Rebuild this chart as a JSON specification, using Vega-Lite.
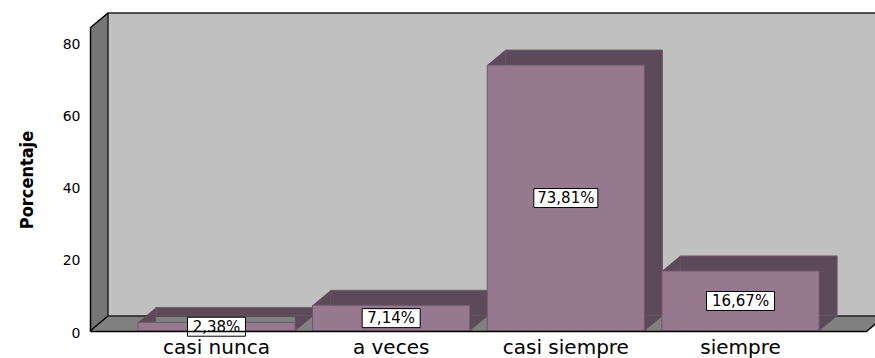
{
  "$schema": "https://vega.github.io/schema/vega-lite/v6.json",
  "width": 777,
  "height": 303,
  "autosize": {"type": "none"},
  "padding": {"left": 90, "top": 28, "right": 8, "bottom": 27},
  "background": "white",
  "config": {"view": {"stroke": null}},
  "data": {"values": [
    {"cat": "casi nunca", "pct": 2.38, "label": "2,38%"},
    {"cat": "a veces", "pct": 7.14, "label": "7,14%"},
    {"cat": "casi siempre", "pct": 73.81, "label": "73,81%"},
    {"cat": "siempre", "pct": 16.67, "label": "16,67%"}
  ]},
  "resolve": {"scale": {"x": "independent", "y": "independent", "shape": "independent"}},
  "layer": [
    {
      "data": {"values": [{}]},
      "mark": {"type": "rect", "fill": "#767676", "x2Offset": 18, "y2Offset": -15},
      "encoding": {
        "x": {"datum": 0, "type": "quantitative", "scale": {"domain": [0, 1], "nice": false, "zero": false}, "axis": null},
        "x2": {"datum": 0},
        "y": {"datum": 0, "type": "quantitative", "scale": {"domain": [0, 84.1], "nice": false}, "axis": null},
        "y2": {"datum": 84.1}
      }
    },
    {
      "data": {"values": [{}]},
      "mark": {"type": "rect", "fill": "#808080", "x2Offset": 18, "y2Offset": -15},
      "encoding": {
        "x": {"datum": 0, "type": "quantitative", "scale": {"domain": [0, 1], "nice": false, "zero": false}, "axis": null},
        "x2": {"datum": 1},
        "y": {"datum": 0, "type": "quantitative", "scale": {"domain": [0, 84.1], "nice": false}, "axis": null},
        "y2": {"datum": 0}
      }
    },
    {
      "data": {"values": [{}]},
      "mark": {"type": "rect", "fill": "#c0c0c0", "stroke": "#222222", "strokeWidth": 1.5, "xOffset": 18, "x2Offset": 18, "yOffset": -15, "y2Offset": -15},
      "encoding": {
        "x": {"datum": 0, "type": "quantitative", "scale": {"domain": [0, 1], "nice": false, "zero": false}, "axis": null},
        "x2": {"datum": 1},
        "y": {"datum": 0, "type": "quantitative", "scale": {"domain": [0, 84.1], "nice": false}, "axis": null},
        "y2": {"datum": 84.1}
      }
    },
    {
      "data": {"values": [{}]},
      "mark": {"type": "point", "shape": "M0,0L0,-15L18,-15Z", "size": 4, "filled": true, "fill": "#ffffff", "strokeWidth": 0, "opacity": 1},
      "encoding": {
        "x": {"datum": 0, "type": "quantitative", "scale": {"domain": [0, 1], "nice": false, "zero": false}, "axis": null},
        "y": {"datum": 84.1, "type": "quantitative", "scale": {"domain": [0, 84.1], "nice": false}, "axis": null}
      }
    },
    {
      "data": {"values": [{}]},
      "mark": {"type": "point", "shape": "M0,0L0,-15L18,-15Z", "size": 4, "filled": true, "fill": "#767676", "strokeWidth": 0, "opacity": 1},
      "encoding": {
        "x": {"datum": 0, "type": "quantitative", "scale": {"domain": [0, 1], "nice": false, "zero": false}, "axis": null},
        "y": {"datum": 0, "type": "quantitative", "scale": {"domain": [0, 84.1], "nice": false}, "axis": null}
      }
    },
    {
      "data": {"values": [{}]},
      "mark": {"type": "point", "shape": "M0,0L18,0L18,-15Z", "size": 4, "filled": true, "fill": "#ffffff", "strokeWidth": 0, "opacity": 1},
      "encoding": {
        "x": {"datum": 1, "type": "quantitative", "scale": {"domain": [0, 1], "nice": false, "zero": false}, "axis": null},
        "y": {"datum": 0, "type": "quantitative", "scale": {"domain": [0, 84.1], "nice": false}, "axis": null}
      }
    },
    {
      "data": {"values": [{"p": 0, "v": 84.1}, {"p": 0, "v": 0}, {"p": 1, "v": 0}]},
      "mark": {"type": "point", "shape": "M0,0L18,-15", "size": 4, "filled": false, "stroke": "#000000", "strokeWidth": 1.5, "opacity": 1},
      "encoding": {
        "x": {"field": "p", "type": "quantitative", "scale": {"domain": [0, 1], "nice": false, "zero": false}, "axis": null},
        "y": {"field": "v", "type": "quantitative", "scale": {"domain": [0, 84.1], "nice": false}, "axis": null}
      }
    },
    {
      "mark": {"type": "bar", "fill": "#5c4a5a", "stroke": "#6e5d6c", "strokeWidth": 1, "xOffset": 18, "yOffset": -15, "y2Offset": -15},
      "encoding": {
        "x": {"field": "cat", "type": "nominal", "sort": null, "scale": {"type": "band", "domain": ["casi nunca", "a veces", "casi siempre", "siempre"], "paddingInner": 0.1, "paddingOuter": 0.274}, "axis": null},
        "y": {"field": "pct", "type": "quantitative", "scale": {"domain": [0, 84.1], "nice": false}, "axis": null}
      }
    },
    {
      "mark": {"type": "point", "shape": "M-78.6,0L-60.6,-15L-60.6,0Z", "size": 4, "filled": true, "fill": "#5c4a5a", "strokeWidth": 0, "opacity": 1},
      "encoding": {
        "x": {"field": "cat", "type": "nominal", "sort": null, "scale": {"type": "band", "domain": ["casi nunca", "a veces", "casi siempre", "siempre"], "paddingInner": 0.1, "paddingOuter": 0.274}, "axis": null},
        "y": {"field": "pct", "type": "quantitative", "scale": {"domain": [0, 84.1], "nice": false}, "axis": null}
      }
    },
    {
      "mark": {"type": "point", "shape": "M78.6,0L78.6,-15L96.6,-15Z", "size": 4, "filled": true, "fill": "#5c4a5a", "strokeWidth": 0, "opacity": 1},
      "encoding": {
        "x": {"field": "cat", "type": "nominal", "sort": null, "scale": {"type": "band", "domain": ["casi nunca", "a veces", "casi siempre", "siempre"], "paddingInner": 0.1, "paddingOuter": 0.274}, "axis": null},
        "y": {"datum": 0, "type": "quantitative", "scale": {"domain": [0, 84.1], "nice": false}, "axis": null}
      }
    },
    {
      "mark": {"type": "bar", "fill": "#96798f", "stroke": "#6b5968", "strokeWidth": 1},
      "encoding": {
        "x": {"field": "cat", "type": "nominal", "sort": null, "scale": {"type": "band", "domain": ["casi nunca", "a veces", "casi siempre", "siempre"], "paddingInner": 0.1, "paddingOuter": 0.274},
          "axis": {"title": null, "labelAngle": 0, "labelFont": "DejaVu Sans", "labelFontSize": 20, "labelColor": "#000000", "labelPadding": 6, "ticks": false, "domain": true, "domainColor": "#000000", "domainWidth": 1.5, "zindex": 1}},
        "y": {"field": "pct", "type": "quantitative", "scale": {"domain": [0, 84.1], "nice": false},
          "axis": {"title": "Porcentaje", "values": [0, 20, 40, 60, 80], "grid": false, "ticks": false, "labelFont": "DejaVu Sans", "labelFontSize": 14, "labelColor": "#000000", "labelPadding": 10, "labelOffset": 2, "domain": true, "domainColor": "#000000", "domainWidth": 1.5, "titleFont": "DejaVu Sans Condensed", "titleFontSize": 18, "titleFontWeight": "bold", "titleColor": "#000000", "titlePadding": 26, "zindex": 1}}
      }
    },
    {
      "mark": {"type": "point", "size": 4, "filled": true, "fill": "#ffffff", "stroke": "#000000", "strokeWidth": 1, "opacity": 1},
      "encoding": {
        "x": {"field": "cat", "type": "nominal", "sort": null, "scale": {"type": "band", "domain": ["casi nunca", "a veces", "casi siempre", "siempre"], "paddingInner": 0.1, "paddingOuter": 0.274}, "axis": null},
        "y": {"field": "pct", "type": "quantitative", "scale": {"domain": [0, 168.2], "nice": false}, "axis": null},
        "shape": {"field": "cat", "type": "nominal", "scale": {"domain": ["casi nunca", "a veces", "casi siempre", "siempre"], "range": ["M-29,-9.5H29V9.5H-29Z", "M-29,-9.5H29V9.5H-29Z", "M-32,-9.5H32V9.5H-32Z", "M-34,-9.5H34V9.5H-34Z"]}, "legend": null}
      }
    },
    {
      "mark": {"type": "text", "font": "DejaVu Sans", "fontSize": 15, "color": "#000000", "align": "center", "baseline": "middle"},
      "encoding": {
        "x": {"field": "cat", "type": "nominal", "sort": null, "scale": {"type": "band", "domain": ["casi nunca", "a veces", "casi siempre", "siempre"], "paddingInner": 0.1, "paddingOuter": 0.274}, "axis": null},
        "y": {"field": "pct", "type": "quantitative", "scale": {"domain": [0, 168.2], "nice": false}, "axis": null},
        "text": {"field": "label"}
      }
    }
  ]
}
